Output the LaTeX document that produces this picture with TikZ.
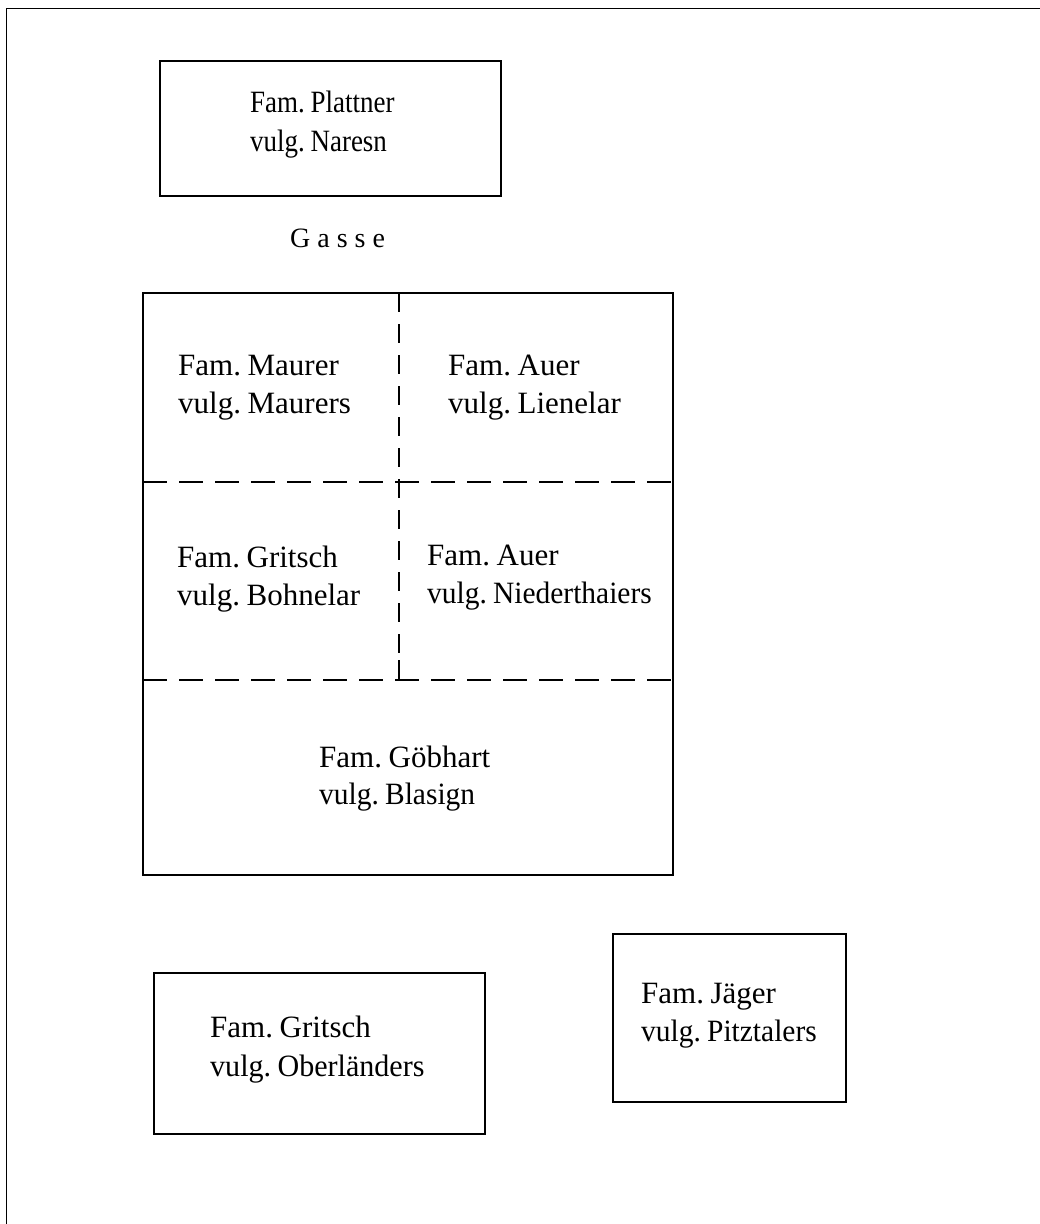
\documentclass[tikz,border=0pt]{standalone}
\usepackage{fontspec}
\setmainfont{Liberation Serif}
\newcommand{\famfont}{\fontsize{31}{38}\selectfont\spaceskip=4pt plus 1pt minus 1pt\relax}
\begin{document}
\begin{tikzpicture}[x=1pt,y=-1pt,
  box/.style={line width=2.4pt},
  frame/.style={line width=1.4pt},
  hdash/.style={line width=2pt,dash pattern=on 24pt off 12pt},
  vdash/.style={line width=2pt,dash pattern=on 19pt off 12pt},
  txt/.style={inner sep=0pt,anchor=base west,font=\famfont},
  txts/.style={txt,xscale=0.87},
  txtg/.style={inner sep=0pt,anchor=base west,font=\fontsize{28}{38}\selectfont}]
\useasboundingbox (0,0) rectangle (1040,1224);
% outer frame (runs off the page on the right and bottom)
\draw[frame] (1060,8.5) -- (6.5,8.5) -- (6.5,1240);
% Plattner
\draw[box] (160,61) rectangle (501,196);
\node[txts] (pl1) at (250,112) {Fam. Plattner};
\node[txts] (pl2) at (250,151) {vulg. Naresn};
% Gasse
\node[txtg] (gasse) at (290,247) {G a s s e};
% main block
\draw[box] (143,293) rectangle (673,875);
\draw[hdash] (143,482) -- (673,482);
\draw[hdash] (143,680) -- (673,680);
\draw[vdash] (399,293) -- (399,662);
\draw[line width=2pt] (399,660) -- (399,680);
\node[txt] (ma1) at (178,375) {Fam. Maurer};
\node[txt] (ma2) at (178,413) {vulg. Maurers};
\node[txt] (li1) at (448,375) {Fam. Auer};
\node[txt] (li2) at (448,413) {vulg. Lienelar};
\node[txt] (bo1) at (177,567) {Fam. Gritsch};
\node[txt] (bo2) at (177,605) {vulg. Bohnelar};
\node[txt] (ni1) at (427,565) {Fam. Auer};
\node[txt,xscale=0.95] (ni2) at (427,603) {vulg. Niederthaiers};
\node[txt] (go1) at (319,767) {Fam. Göbhart};
\node[txt,xscale=0.95] (go2) at (319,804) {vulg. Blasign};
% Oberländers
\draw[box] (154,973) rectangle (485,1134);
\node[txt] (ob1) at (210,1037) {Fam. Gritsch};
\node[txt,xscale=0.97] (ob2) at (210,1076) {vulg. Oberländers};
% Jäger
\draw[box] (613,934) rectangle (846,1102);
\node[txt] (ja1) at (641,1003) {Fam. Jäger};
\node[txt,xscale=0.95] (ja2) at (641,1041) {vulg. Pitztalers};
\end{tikzpicture}
\end{document}
